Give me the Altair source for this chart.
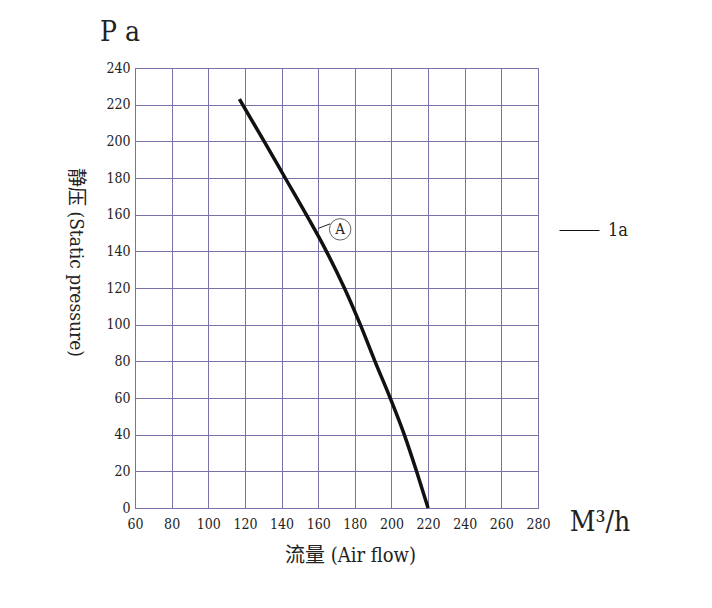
import altair as alt
import pandas as pd

# Curve data
flow = [117, 130.5, 142, 153.5, 164.5, 174.3, 183, 191, 199.3, 207, 213.7, 220]
pressure = [223, 200, 180, 160, 140, 120, 100, 80, 60, 40, 20, 0]
series = ["1a"] * len(flow)

x_ticks = list(range(60, 281, 20))
y_ticks = list(range(0, 241, 20))

# Annotation "A"
ann_x = [172]
ann_y = [152]
ann_text = ["A"]
lead_x = [160]
lead_y = [152.5]
lead_x2 = [166.5]
lead_y2 = [155]

FONT = "DejaVu Serif Condensed, Liberation Serif, Noto Sans CJK SC"
GRID = "#7d70a8"

df = pd.DataFrame({"flow": flow, "pressure": pressure, "series": series})

xs = alt.Scale(domain=[60, 280], nice=False, zero=False)
ys = alt.Scale(domain=[0, 240], nice=False)

curve = alt.Chart(df).mark_line(strokeWidth=3.5, interpolate="monotone").encode(
    x=alt.X("flow:Q", scale=xs,
            axis=alt.Axis(values=x_ticks, tickCount=30, title="流量 (Air flow)", grid=True,
                          gridColor=GRID, gridOpacity=1, gridWidth=1,
                          domainColor=GRID, ticks=False, labelPadding=9,
                          labelOverlap=False, labelFlush=False,
                          labelFont=FONT, labelFontSize=14, labelColor="#222",
                          titleFont=FONT, titleFontSize=20, titleFontWeight="normal",
                          titleColor="#222", titleX=215, titleY=47,
                          titleBaseline="middle")),
    y=alt.Y("pressure:Q", scale=ys,
            axis=alt.Axis(values=y_ticks, tickCount=30, title="静压 (Static pressure)", grid=True,
                          gridColor=GRID, gridOpacity=1, gridWidth=1,
                          domainColor=GRID, ticks=False, labelPadding=5,
                          labelOverlap=False, labelFlush=False,
                          labelFont=FONT, labelFontSize=14, labelColor="#222",
                          titleFont=FONT, titleFontSize=19, titleFontWeight="normal",
                          titleColor="#222", titleAngle=90, titleX=-60, titleY=194,
                          titleAlign="center", titleBaseline="middle")),
    color=alt.Color("series:N", scale=alt.Scale(domain=["1a"], range=["#111"]),
                    legend=alt.Legend(title=None, orient="none", legendX=424, legendY=142,
                                      symbolType="stroke", symbolSize=1600,
                                      symbolStrokeWidth=1, labelFont=FONT,
                                      labelFontSize=18, labelColor="#222",
                                      labelOffset=8)),
)

ann_df = pd.DataFrame({"x": ann_x, "y": ann_y, "t": ann_text})
circle = alt.Chart(ann_df).mark_point(shape="circle", size=460, filled=False,
                                      color="#222", strokeWidth=1).encode(
    x=alt.X("x:Q", scale=xs), y=alt.Y("y:Q", scale=ys))
letter = alt.Chart(ann_df).mark_text(font=FONT, fontSize=15, color="#222").encode(
    x=alt.X("x:Q", scale=xs), y=alt.Y("y:Q", scale=ys), text="t:N")

lead_df = pd.DataFrame({"x": lead_x, "y": lead_y, "x2": lead_x2, "y2": lead_y2})
leader = alt.Chart(lead_df).mark_rule(color="#222", strokeWidth=1).encode(
    x=alt.X("x:Q", scale=xs), y=alt.Y("y:Q", scale=ys),
    x2="x2:Q", y2="y2:Q")

pa = alt.Chart(pd.DataFrame({"t": ["P a"]})).mark_text(
    font=FONT, fontSize=28, color="#222").encode(
    x=alt.value(-15), y=alt.value(-35), text="t:N")
unit = alt.Chart(pd.DataFrame({"t": ["M³/h"]})).mark_text(
    font=FONT, fontSize=28, color="#222").encode(
    x=alt.value(465), y=alt.value(455), text="t:N")

chart = alt.layer(curve, leader, circle, letter, pa, unit).properties(
    width=403, height=440,
    autosize=alt.AutoSizeParams(type="none"),
    padding={"left": 127, "top": 60, "right": 150, "bottom": 80},
    background="white",
).configure_view(stroke=GRID, strokeWidth=1)

chart.save("out.html", embed_options={"renderer": "svg", "actions": False})
